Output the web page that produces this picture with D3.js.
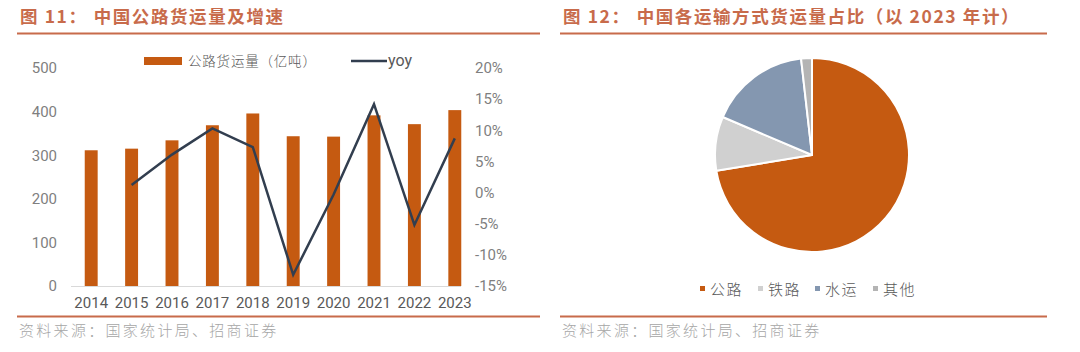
<!DOCTYPE html>
<html>
<head>
<meta charset="utf-8">
<script src="https://cdn.jsdelivr.net/npm/d3@7"></script>
<style>
  body { margin: 0; background: #fff; }
  svg { display: block; }
  text { font-family: "Noto Sans CJK SC", "Noto Sans", sans-serif; }
  .num { font-family: Roboto, "Noto Sans", sans-serif; }
</style>
</head>
<body>
<div id="chart"></div>
<script>
// --- data ---
const years = ["2014", "2015", "2016", "2017", "2018", "2019", "2020", "2021", "2022", "2023"];
const freight = [311.3, 315.0, 334.1, 368.7, 395.7, 343.5, 342.6, 391.4, 371.2, 403.4];
const yoy = [null, 1.2, 6.1, 10.3, 7.3, -13.2, -0.3, 14.2, -5.2, 8.7];
const leftTicks = [0, 100, 200, 300, 400, 500];
const rightTicks = [-15, -10, -5, 0, 5, 10, 15, 20];

const modes = ["公路", "铁路", "水运", "其他"];
const modeShare = [72.4, 9.0, 16.8, 1.8];

const titleNoLeft = "图 11：";
const titleLeft = "中国公路货运量及增速";
const titleNoRight = "图 12：";
const titleRight = "中国各运输方式货运量占比（以 2023 年计）";
const source = "资料来源：国家统计局、招商证券";

// --- styles ---
const ACCENT = "#C86B4B";
const BAR = "#C55A11";
const LINE = "#323E4F";
const AXIS_TXT = "#7F7F7F";
const pieColors = ["#C55A11", "#D0D0D0", "#8497B0", "#B4B4B4"];

const W = 1080, H = 352;
const svg = d3.select("#chart").append("svg").attr("width", W).attr("height", H);

// headers / footers
function panelFrame(x0, x1, num, title) {
  const t = svg.append("text").attr("x", x0 + 3).attr("y", 23)
    .attr("font-size", 17.5).attr("font-weight", 700).attr("fill", ACCENT)
    .attr("letter-spacing", 1.6);
  t.append("tspan").text(num);
  t.append("tspan").attr("dx", 6).text(title);
  svg.append("line").attr("x1", x0).attr("x2", x1).attr("y1", 33.5).attr("y2", 33.5)
    .attr("stroke", ACCENT).attr("stroke-width", 2);
  svg.append("line").attr("x1", x0).attr("x2", x1).attr("y1", 316.5).attr("y2", 316.5)
    .attr("stroke", ACCENT).attr("stroke-width", 2);
  svg.append("text").attr("x", x0 + 2).attr("y", 336)
    .attr("font-size", 15).attr("font-weight", 300).attr("fill", "#A6A6A6")
    .attr("letter-spacing", 2.3)
    .text(source);
}
panelFrame(17, 540, titleNoLeft, titleLeft);
panelFrame(560, 1047, titleNoRight, titleRight);

// --- left: bar + line ---
const x = d3.scaleBand().domain(years).range([71, 475]).paddingInner(0.68).paddingOuter(0.34);
const yL = d3.scaleLinear().domain([0, 500]).range([286, 68]);
const yR = d3.scaleLinear().domain([-15, 20]).range([286, 68]);

const g = svg.append("g");

g.append("line").attr("x1", 71).attr("x2", 461).attr("y1", yL(0) + 0.5).attr("y2", yL(0) + 0.5)
  .attr("stroke", "#D9D9D9").attr("stroke-width", 1);

g.selectAll("rect.bar").data(freight).join("rect")
  .attr("class", "bar")
  .attr("x", (d, i) => x(years[i]))
  .attr("width", x.bandwidth())
  .attr("y", d => yL(d))
  .attr("height", d => yL(0) - yL(d))
  .attr("fill", BAR);

const lineGen = d3.line()
  .defined(d => d != null)
  .x((d, i) => x(years[i]) + x.bandwidth() / 2)
  .y(d => yR(d));
g.append("path").datum(yoy)
  .attr("d", lineGen)
  .attr("fill", "none").attr("stroke", LINE).attr("stroke-width", 2.5)
  .attr("stroke-linejoin", "miter");

// axes
const axL = g.append("g").attr("transform", "translate(57,0)")
  .call(d3.axisLeft(yL).tickValues(leftTicks).tickSize(0).tickPadding(0));
const axR = g.append("g").attr("transform", "translate(475,0)")
  .call(d3.axisRight(yR).tickValues(rightTicks).tickSize(0).tickPadding(0).tickFormat(d => d + "%"));
const axX = g.append("g").attr("transform", "translate(0,286)")
  .call(d3.axisBottom(x).tickSize(0).tickPadding(11));
[axL, axR, axX].forEach(a => {
  a.select(".domain").remove();
  a.selectAll("text").attr("class", "num").attr("font-size", 15).attr("fill", AXIS_TXT);
});
axX.selectAll("text").attr("fill", "#595959");

// legend
const lg = svg.append("g");
lg.append("rect").attr("x", 144).attr("y", 57).attr("width", 38).attr("height", 8).attr("fill", BAR);
lg.append("text").attr("x", 188).attr("y", 66).attr("font-size", 13.5).attr("font-weight", 300)
  .attr("fill", "#595959").attr("letter-spacing", 0.8).text("公路货运量（亿吨）");
lg.append("line").attr("x1", 351).attr("x2", 387).attr("y1", 61).attr("y2", 61)
  .attr("stroke", LINE).attr("stroke-width", 2.5);
lg.append("text").attr("class", "num").attr("x", 388).attr("y", 66).attr("font-size", 16)
  .attr("fill", "#595959").text("yoy");

// --- right: pie ---
const pie = d3.pie().sort(null).value(d => d)(modeShare);
const arc = d3.arc().innerRadius(0).outerRadius(97);
const pg = svg.append("g").attr("transform", "translate(812,155)");
pg.selectAll("path").data(pie).join("path")
  .attr("d", arc)
  .attr("fill", (d, i) => pieColors[i])
  .attr("stroke", "#fff").attr("stroke-width", 2).attr("stroke-linejoin", "round");

// pie legend
const legX = [700, 758, 815, 873];
const pl = svg.append("g");
modes.forEach((m, i) => {
  pl.append("rect").attr("x", legX[i]).attr("y", 286).attr("width", 5).attr("height", 5)
    .attr("fill", pieColors[i]);
  pl.append("text").attr("x", legX[i] + 10).attr("y", 295).attr("font-size", 15).attr("font-weight", 300)
    .attr("fill", "#595959").attr("letter-spacing", 1.5).text(m);
});
</script>
</body>
</html>
